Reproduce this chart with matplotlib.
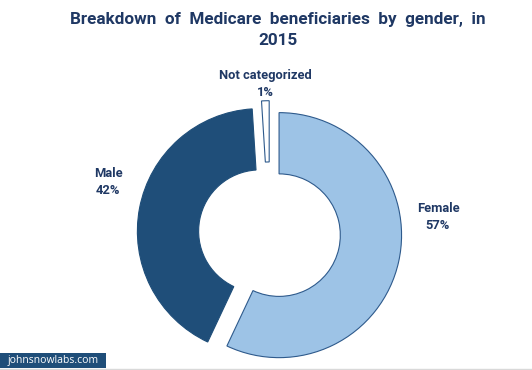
import matplotlib
matplotlib.use("Agg")
import matplotlib.pyplot as plt
from matplotlib.patches import Rectangle

categories = ["Female", "Male", "Not categorized"]
values = [57, 42, 1]
pct_labels = ["57%", "42%", "1%"]

colors = ["#9DC3E6", "#1F4E79", "#FFFFFF"]
edges = ["#2E5A8C", "#1F4E79", "#2E5A8C"]
text_color = "#1F3864"

W, H = 532, 370
fig = plt.figure(figsize=(W / 100, H / 100), dpi=100)
cx, cy, R = 269.5, 137, 122.5
ax = fig.add_axes([0, 0, 1, 1])

wedges, _ = ax.pie(values, colors=colors, startangle=90, counterclock=False,
                   explode=[0.08, 0.08, 0.08], radius=1.0,
                   wedgeprops=dict(width=0.5, linewidth=0.8))
for w, e in zip(wedges, edges):
    w.set_edgecolor(e)
ax.set_aspect("auto")
ax.set_xlim(-cx / R, (W - cx) / R)
ax.set_ylim(-cy / R, (H - cy) / R)
ax.axis("off")

label_pos = {"Female": (438, 217), "Male": (108, 182), "Not categorized": (265, 84)}
for cat, p in zip(categories, pct_labels):
    px, py = label_pos[cat]
    ax.text((px - cx) / R, ((H - py) - cy) / R, f"{cat}\n{p}", ha="center", va="center",
            fontsize=9.3, fontweight="bold", color=text_color, linespacing=1.45,
            family="Roboto")

fig.text(278 / W, 1 - 30 / H, "Breakdown  of  Medicare  beneficiaries  by  gender,  in\n2015",
         ha="center", va="center", fontsize=12.3, fontweight="bold", color=text_color,
         linespacing=1.45, family="Roboto")

fig.patches.append(Rectangle((0, 2 / H), 106 / W, 15 / H, transform=fig.transFigure,
                             facecolor="#1F4E79", edgecolor="none"))
fig.text(53 / W, 9.5 / H, "johnsnowlabs.com", ha="center", va="center", fontsize=7.5,
         color="white", family="Open Sans")
fig.lines.append(plt.Line2D([0, 1], [1.5 / H, 1.5 / H], transform=fig.transFigure,
                            color="#D9D9D9", linewidth=1))

fig.savefig("out.png", dpi=100)
